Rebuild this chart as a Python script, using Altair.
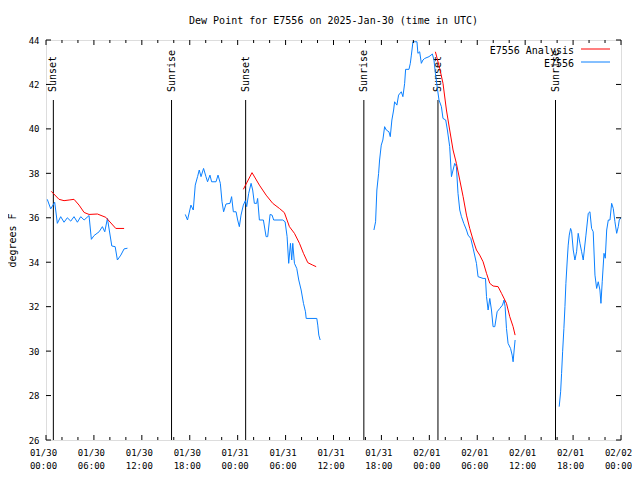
import altair as alt
import pandas as pd

# ---------------- data (hours after 2025-01-30 00:00 UTC) ----------------
obs1_h = [0.16, 0.59, 1.09, 1.42, 1.84, 2.26, 2.67, 3.10, 3.51, 3.93, 4.35, 4.77, 5.39,
          5.68, 6.02, 6.65, 7.06, 7.36, 7.69, 8.12, 8.24, 8.66, 8.94, 9.37, 9.78, 10.2]
obs1_v = [36.83, 36.4, 36.7, 35.75, 36.05, 35.8, 36.0, 35.85, 36.05, 35.8, 36.05, 35.9, 36.1,
          35.03, 35.2, 35.37, 35.6, 35.37, 35.97, 35.0, 34.73, 34.7, 34.1, 34.32, 34.6, 34.63]

obs2_h = [17.44, 17.72, 18.15, 18.44, 18.69, 18.98, 19.19, 19.41, 19.73, 20.03, 20.23, 20.53,
          20.74, 21.29, 21.54, 21.83, 22.04, 22.24, 22.54, 23.04, 23.24, 23.46, 23.8, 24.0,
          24.21, 24.42, 24.71, 24.96, 25.13, 25.38, 25.68, 25.88, 26.09, 26.38, 26.5, 26.72,
          27.22, 27.56, 27.76, 28.06, 28.31, 28.51, 29.64, 29.94, 30.19, 30.39, 30.61, 30.77,
          30.9, 31.11, 31.4, 31.65, 31.95, 32.24, 32.49, 32.58, 33.91, 34.03, 34.16, 34.33]
obs2_v = [36.15, 35.9, 36.57, 36.35, 37.47, 37.85, 38.15, 37.85, 38.22, 37.85, 37.62, 37.92,
          37.62, 37.62, 37.92, 37.55, 36.72, 36.27, 36.62, 36.65, 36.95, 36.27, 36.27, 35.9,
          35.6, 36.12, 36.57, 36.77, 36.5, 37.1, 37.55, 37.25, 36.65, 36.65, 36.87, 35.9,
          35.9, 35.15, 35.15, 36.15, 36.12, 35.9, 35.9, 35.82, 35.15, 33.95, 34.85, 34.1,
          34.85, 33.95, 33.72, 33.2, 32.75, 32.15, 31.77, 31.47, 31.47, 31.17, 30.72, 30.5]

obs3_h = [41.06, 41.27, 41.43, 41.65, 41.77, 41.98, 42.18, 42.4, 42.61, 42.94, 43.11, 43.31,
          43.53, 43.65, 43.94, 44.15, 44.49, 44.69, 44.91, 45.03, 45.45, 45.62, 45.75, 45.95,
          46.45, 46.57, 46.79, 47.0, 47.2, 47.42, 47.96, 48.38, 48.58, 48.76, 49.01, 49.21,
          49.51, 49.71, 50.05, 50.26, 50.55, 50.77, 50.97, 51.18, 51.39, 51.59, 51.81, 52.02,
          52.31, 52.65, 52.85, 53.19, 53.48, 53.9, 54.1, 54.73, 55.03, 55.16, 55.36, 55.57,
          55.78, 55.98, 56.2, 56.49, 56.82, 57.16, 57.36, 57.49, 57.66, 57.86, 58.17, 58.37,
          58.49, 58.62, 58.74]
obs3_v = [35.45, 35.82, 37.25, 38.0, 38.6, 39.27, 39.5, 40.1, 39.95, 39.87, 39.65, 40.4,
          40.85, 41.22, 41.07, 41.52, 41.67, 41.45, 42.05, 42.68, 42.68, 42.95, 43.32, 43.92,
          43.92, 43.4, 43.47, 42.95, 43.1, 43.17, 43.25, 43.37, 43.1, 42.5, 41.82, 41.3,
          41.0, 40.47, 40.4, 39.95, 39.2, 37.85, 38.15, 38.45, 38.3, 37.1, 36.35, 36.05,
          35.75, 35.45, 35.22, 35.07, 34.63, 33.95, 33.35, 33.27, 33.27, 32.45, 31.85, 32.37,
          31.85, 31.1, 31.1, 31.77, 31.92, 32.07, 32.3, 32.0, 31.02, 30.35, 30.12, 29.82,
          29.52, 30.05, 30.5]

obs4_h = [64.26, 64.44, 64.56, 64.69, 64.85, 64.98, 65.1, 65.27, 65.39, 65.52, 65.69, 65.82,
          66.02, 66.23, 66.44, 66.64, 66.86, 67.07, 67.27, 67.61, 67.9, 68.11, 68.32, 68.52,
          68.74, 68.95, 69.15, 69.36, 69.49, 69.65, 69.87, 70.03, 70.21, 70.41, 70.62, 70.83,
          71.03, 71.24, 71.46, 71.66, 71.78, 72.0]
obs4_v = [27.5, 28.17, 29.0, 29.97, 31.02, 32.0, 33.05, 34.1, 34.77, 35.22, 35.52, 35.37,
          34.55, 34.1, 34.47, 35.3, 34.85, 34.47, 34.1, 35.22, 36.2, 36.27, 35.52, 35.37,
          33.42, 32.82, 33.12, 32.75, 32.15, 33.12, 34.4, 34.18, 35.45, 35.9, 35.9, 36.65,
          36.42, 35.82, 35.3, 35.6, 35.9, 36.0]

ana1_h = [0.66, 1.63, 2.26, 2.89, 3.51, 4.14, 4.77, 5.39, 6.44, 7.49, 8.74, 9.78]
ana1_v = [37.19, 36.83, 36.77, 36.8, 36.83, 36.57, 36.24, 36.15, 36.17, 36.02, 35.52, 35.52]

ana2_h = [24.71, 25.8, 26.72, 27.56, 28.39, 29.23, 29.85, 30.48, 31.11, 31.74, 32.24, 32.78,
          33.4, 33.83]
ana2_v = [37.28, 38.03, 37.47, 37.02, 36.65, 36.42, 36.23, 35.6, 35.3, 34.85, 34.4, 33.98,
          33.87, 33.8]

ana3_h = [48.76, 49.3, 49.71, 50.14, 50.55, 50.97, 51.39, 51.81, 52.23, 52.65, 53.06, 53.48,
          53.9, 54.31, 54.73, 55.16, 55.57, 55.98, 56.61, 57.04, 57.66, 58.07, 58.49, 58.74]
ana3_v = [43.47, 42.72, 42.05, 40.85, 39.95, 39.05, 38.45, 37.7, 36.95, 36.12, 35.52, 35.0,
          34.55, 34.32, 34.02, 33.5, 33.05, 32.93, 32.9, 32.6, 32.15, 31.55, 31.1, 30.72]

sun_h = [0.92, 15.72, 25.0, 39.8, 49.08, 63.8]
sun_labels = ["Sunset", "Sunrise", "Sunset", "Sunrise", "Sunset", "Sunrise"]

x_label_hours = list(range(0, 73, 6))
x_tick_hours = list(range(0, 73, 2))
y_ticks = list(range(26, 45, 2))

series_names = ["E7556 Analysis", "E7556"]
series_colors = ["#ff0000", "#0a80ff"]
title_text = "Dew Point for E7556 on 2025-Jan-30 (time in UTC)"
y_title = "degrees F"

# ---------------- build tables ----------------
base = pd.Timestamp("2025-01-30T00:00:00")


def iso(hours):
    return [(base + pd.Timedelta(hours=h)).strftime("%Y-%m-%dT%H:%M:%SZ") for h in hours]


def ms(hours):
    return [int((base + pd.Timedelta(hours=h)).value // 10**6) for h in hours]


rows = []
for seg, (hs, vs) in enumerate([(obs1_h, obs1_v), (obs2_h, obs2_v), (obs3_h, obs3_v), (obs4_h, obs4_v)]):
    for t, v in zip(iso(hs), vs):
        rows.append({"t": t, "v": v, "seg": f"o{seg}", "series": series_names[1]})
for seg, (hs, vs) in enumerate([(ana1_h, ana1_v), (ana2_h, ana2_v), (ana3_h, ana3_v)]):
    for t, v in zip(iso(hs), vs):
        rows.append({"t": t, "v": v, "seg": f"a{seg}", "series": series_names[0]})
lines_df = pd.DataFrame(rows)

sun_df = pd.DataFrame({"t": iso(sun_h), "label": sun_labels})
major_df = pd.DataFrame({"t": iso([h for h in x_tick_hours if h % 6 == 0])})
minor_df = pd.DataFrame({"t": iso([h for h in x_tick_hours if h % 6 != 0])})
yt_df = pd.DataFrame({"v": y_ticks})

W, H = 575, 400
FONT = "DejaVu Sans Mono"

x_axis = alt.Axis(
    values=ms(x_label_hours),
    labelExpr="[utcFormat(datum.value, '%m/%d'), utcFormat(datum.value, '%H:%M')]",
    labelFontSize=9, labelFont=FONT, labelColor="black",
    labelPadding=8, labelBaseline="top", labelLineHeight=13, labelOffset=-3,
    labelFlush=False, labelOverlap=False, labelBound=False,
    ticks=False, tickSize=0, domain=False, grid=False, title=None,
)
y_axis = alt.Axis(
    values=y_ticks, labelFontSize=9, labelFont=FONT, labelColor="black",
    labelPadding=7, ticks=False, tickSize=0, domain=False, grid=False,
    title=y_title, titleFont=FONT, titleFontSize=10, titleFontWeight="normal",
    titleColor="black", titlePadding=11,
)
X = alt.X("t:T", scale=alt.Scale(type="utc", domain=ms([0, 72])), axis=x_axis)
Y = alt.Y("v:Q", scale=alt.Scale(domain=[26, 44], nice=False, zero=False), axis=y_axis)

lines = alt.Chart(lines_df).mark_line(strokeWidth=1, interpolate="linear").encode(
    x=X, y=Y,
    color=alt.Color("series:N", scale=alt.Scale(domain=series_names, range=series_colors), legend=None),
    detail="seg:N",
)

sun_rules = alt.Chart(sun_df).mark_rule(color="black", strokeWidth=1).encode(
    x=X, y=alt.value(60), y2=alt.value(H)
)
sun_text = alt.Chart(sun_df).mark_text(
    angle=270, align="left", baseline="middle", font=FONT, fontSize=10, color="black"
).encode(x=X, y=alt.value(52), text="label:N")

# inward ticks (gnuplot style)
bt_major = alt.Chart(major_df).mark_rule(color="black").encode(x=X, y=alt.value(H), y2=alt.value(H - 5))
bt_minor = alt.Chart(minor_df).mark_rule(color="black").encode(x=X, y=alt.value(H), y2=alt.value(H - 3))
tp_major = alt.Chart(major_df).mark_rule(color="black").encode(x=X, y=alt.value(0), y2=alt.value(5))
tp_minor = alt.Chart(minor_df).mark_rule(color="black").encode(x=X, y=alt.value(0), y2=alt.value(3))
yl = alt.Chart(yt_df).mark_rule(color="black").encode(y=Y, x=alt.value(0), x2=alt.value(5))
yr = alt.Chart(yt_df).mark_rule(color="black").encode(y=Y, x=alt.value(W), x2=alt.value(W - 5))

# key (top right, gnuplot style: text then sample)
key_layers = []
for i, (name, col) in enumerate(zip(series_names, series_colors)):
    ty = 10.5 + 13 * i
    one = pd.DataFrame({"name": [name]})
    key_layers.append(
        alt.Chart(one).mark_text(align="right", baseline="middle", font=FONT, fontSize=10, color="black")
        .encode(x=alt.value(528), y=alt.value(ty), text="name:N")
    )
    key_layers.append(
        alt.Chart(one).mark_rule(color=col, strokeWidth=1)
        .encode(x=alt.value(535), x2=alt.value(564), y=alt.value(ty - 1.5))
    )

chart = alt.layer(
    sun_rules, sun_text, lines, bt_major, bt_minor, tp_major, tp_minor, yl, yr, *key_layers
).properties(
    width=W, height=H,
    title=alt.Title(title_text, font=FONT, fontSize=10, fontWeight="normal", color="black",
                    anchor="middle", frame="group", offset=15, baseline="alphabetic", dy=13),
    autosize=alt.AutoSizeParams(type="none"),
    padding={"left": 38, "top": 32, "right": 11, "bottom": 32},
).configure_view(stroke="black", strokeWidth=1).configure(background="white")

chart.save("out.html", embed_options={"renderer": "svg", "actions": False})
